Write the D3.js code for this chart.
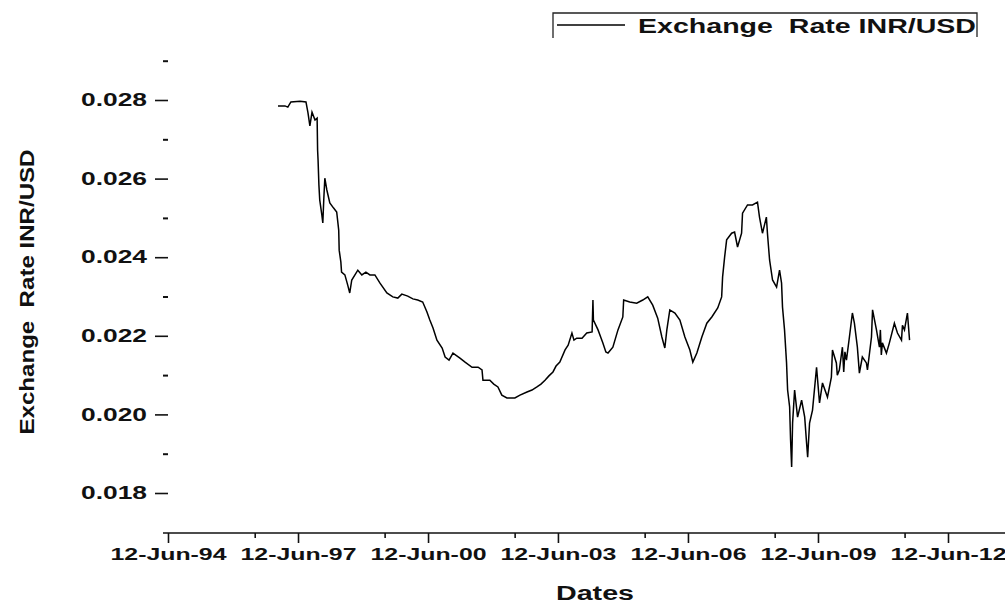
<!DOCTYPE html>
<html>
<head>
<meta charset="utf-8">
<script src="https://cdn.jsdelivr.net/npm/d3@7"></script>
<style>
  body { margin: 0; background: #fff; }
  svg { display: block; font-family: "Liberation Sans", Arial, sans-serif; }
  .tick text { font-weight: bold; fill: #111; }
  .keep-space { white-space: pre; }
</style>
</head>
<body>
<svg width="1005" height="604"></svg>
<script>
// values
const dates = [
  "1996-12-25","1997-02-22","1997-03-18","1997-04-13","1997-06-29","1997-08-18","1997-09-04","1997-09-20",
  "1997-10-08","1997-11-02","1997-11-20","1997-11-24","1997-11-28","1997-12-05","1997-12-12","1997-12-30",
  "1998-01-07","1998-01-15","1998-01-24","1998-02-10","1998-03-07","1998-04-08","1998-05-04","1998-05-21",
  "1998-05-25","1998-06-08","1998-06-14","1998-07-12","1998-08-05","1998-08-22","1998-09-08","1998-10-29",
  "1998-12-02","1999-01-05","1999-02-08","1999-03-22","1999-05-04","1999-07-01","1999-08-20","1999-10-01",
  "1999-11-04","1999-12-24","2000-02-05","2000-03-17","2000-04-28","2000-06-02","2000-06-27","2000-07-24",
  "2000-08-26","2000-10-09","2000-11-03","2000-12-06","2001-01-08","2001-03-08","2001-04-20","2001-06-18",
  "2001-08-08","2001-09-10","2001-09-18","2001-11-15","2001-12-18","2002-01-22","2002-02-24","2002-04-08",
  "2002-06-14","2002-07-27","2002-09-24","2002-11-05","2002-12-17","2003-01-20","2003-02-23","2003-03-28",
  "2003-05-01","2003-05-27","2003-06-28","2003-08-11","2003-09-06","2003-10-08","2003-10-25","2003-11-17",
  "2004-01-01","2004-02-10","2004-03-26","2004-04-02","2004-04-06","2004-05-15","2004-06-10","2004-06-24",
  "2004-07-20","2004-08-07","2004-09-17","2004-10-30","2004-12-10","2004-12-17","2005-02-06","2005-04-06",
  "2005-05-27","2005-07-08","2005-08-19","2005-09-30","2005-11-04","2005-11-29","2005-12-16","2006-01-10",
  "2006-02-22","2006-04-05","2006-05-17","2006-06-28","2006-07-23","2006-08-26","2006-10-07","2006-11-18",
  "2006-12-30","2007-02-18","2007-03-23","2007-03-31","2007-04-17","2007-05-04","2007-06-15","2007-07-10",
  "2007-08-04","2007-09-07","2007-09-15","2007-10-27","2007-12-08","2008-01-19","2008-02-05","2008-03-01",
  "2008-04-03","2008-04-12","2008-04-30","2008-05-25","2008-06-28","2008-07-23","2008-08-09","2008-08-17",
  "2008-09-03","2008-09-20","2008-09-29","2008-10-16","2008-10-24","2008-11-02","2008-11-10","2008-11-27",
  "2008-12-22","2009-01-25","2009-02-20","2009-03-08","2009-03-17","2009-04-02","2009-04-27","2009-05-31",
  "2009-06-25","2009-07-20","2009-08-31","2009-10-03","2009-10-12","2009-11-14","2009-11-22","2009-12-09",
  "2010-01-04","2010-01-15","2010-01-25","2010-02-07","2010-03-04","2010-03-29","2010-04-15","2010-05-10",
  "2010-05-27","2010-06-21","2010-07-25","2010-08-03","2010-09-06","2010-09-15","2010-10-18","2010-11-12",
  "2010-11-20","2010-11-28","2010-12-07","2011-01-10","2011-02-04","2011-03-18","2011-04-13","2011-05-17",
  "2011-05-25","2011-06-11","2011-07-06","2011-07-24"
];
const rates = [
  0.02785,0.02785,0.02782,0.02795,0.02797,0.02795,0.02767,0.02734,
  0.02769,0.02749,0.02754,0.02673,0.02647,0.02584,0.02546,0.02507,
  0.02487,0.02546,0.02601,0.02571,0.02538,0.02525,0.02515,0.02469,
  0.02418,0.02388,0.02362,0.02355,0.02329,0.02309,0.02342,0.02367,
  0.02355,0.02362,0.02355,0.02355,0.02334,0.02309,0.02299,0.02296,
  0.02306,0.02301,0.02294,0.02291,0.02286,0.02261,0.02240,0.02220,
  0.02189,0.02169,0.02146,0.02138,0.02156,0.02143,0.02133,0.02120,
  0.02120,0.02113,0.02087,0.02087,0.02077,0.02070,0.02049,0.02042,
  0.02042,0.02049,0.02057,0.02062,0.02070,0.02077,0.02087,0.02098,
  0.02108,0.02123,0.02133,0.02164,0.02176,0.02207,0.02189,0.02194,
  0.02194,0.02207,0.02210,0.02291,0.02240,0.02215,0.02194,0.02182,
  0.02159,0.02156,0.02171,0.02215,0.02248,0.02291,0.02286,0.02283,
  0.02291,0.02299,0.02278,0.02245,0.02197,0.02169,0.02215,0.02266,
  0.02258,0.02240,0.02197,0.02164,0.02133,0.02156,0.02197,0.02232,
  0.02248,0.02271,0.02299,0.02350,0.02400,0.02444,0.02461,0.02464,
  0.02426,0.02461,0.02512,0.02533,0.02533,0.02540,0.02502,0.02461,
  0.02502,0.02461,0.02393,0.02342,0.02324,0.02367,0.02334,0.02273,
  0.02215,0.02131,0.02062,0.02019,0.01935,0.01866,0.01978,0.02062,
  0.01993,0.02036,0.01993,0.01927,0.01891,0.01978,0.02011,0.02120,
  0.02029,0.02080,0.02044,0.02095,0.02164,0.02131,0.02100,0.02113,
  0.02171,0.02108,0.02159,0.02138,0.02197,0.02258,0.02232,0.02171,
  0.02105,0.02146,0.02131,0.02113,0.02197,0.02266,0.02215,0.02171,
  0.02215,0.02151,0.02182,0.02156,0.02182,0.02232,0.02207,0.02189,
  0.02227,0.02215,0.02258,0.02189
];
const majorTickDates = ["1994-06-12","1997-06-12","2000-06-12","2003-06-12","2006-06-12","2009-06-12","2012-06-12"];
const minorTickDates = ["1996-06-12","1999-06-12","2002-06-12","2005-06-12","2008-06-12","2011-06-12"];
const majorYTicks = [0.018, 0.020, 0.022, 0.024, 0.026, 0.028];
const minorYTicks = [0.019, 0.021, 0.023, 0.025, 0.027, 0.029];
const seriesName = "Exchange  Rate INR/USD";

const parse = d3.timeParse("%Y-%m-%d");
const fmtDate = d3.timeFormat("%d-%b-%y");
const data = dates.map((d, i) => ({ date: parse(d), value: rates[i] }));

const svg = d3.select("svg");
const axisY = 533, axisX = 168;

const x = d3.scaleTime()
  .domain([parse(majorTickDates[0]), parse(majorTickDates[majorTickDates.length - 1])])
  .range([168, 948]);
const y = d3.scaleLinear().domain([0.018, 0.028]).range([493, 100]);

// x axis
svg.append("line")
  .attr("x1", 163).attr("x2", 1005)
  .attr("y1", axisY).attr("y2", axisY)
  .attr("stroke", "#111").attr("stroke-width", 1.6);

const xMajor = svg.append("g")
  .attr("transform", `translate(0,${axisY})`)
  .call(d3.axisBottom(x).tickValues(majorTickDates.map(parse)).tickSize(10).tickPadding(5).tickFormat(fmtDate));
xMajor.select(".domain").remove();
xMajor.selectAll(".tick line").attr("stroke", "#111").attr("stroke-width", 1.6);
xMajor.selectAll(".tick text")
  .attr("font-size", 17)
  .attr("textLength", 116).attr("lengthAdjust", "spacingAndGlyphs");

const xMinor = svg.append("g")
  .attr("transform", `translate(0,${axisY})`)
  .call(d3.axisBottom(x).tickValues(minorTickDates.map(parse)).tickSize(5).tickFormat(""));
xMinor.select(".domain").remove();
xMinor.selectAll(".tick line").attr("stroke", "#111").attr("stroke-width", 1.6);

// y axis, ticks only
const yMajor = svg.append("g")
  .attr("transform", `translate(${axisX},0)`)
  .call(d3.axisLeft(y).tickValues(majorYTicks).tickSize(13).tickPadding(8).tickFormat(d3.format(".3f")));
yMajor.select(".domain").remove();
yMajor.selectAll(".tick line").attr("stroke", "#111").attr("stroke-width", 1.6);
yMajor.selectAll(".tick text")
  .attr("font-size", 18)
  .attr("textLength", 66).attr("lengthAdjust", "spacingAndGlyphs");

const yMinor = svg.append("g")
  .attr("transform", `translate(${axisX},0)`)
  .call(d3.axisLeft(y).tickValues(minorYTicks).tickSize(5).tickFormat(""));
yMinor.select(".domain").remove();
yMinor.selectAll(".tick line").attr("stroke", "#111").attr("stroke-width", 2);

// axis titles
svg.append("text")
  .attr("x", 595).attr("y", 600)
  .attr("text-anchor", "middle")
  .attr("font-size", 20).attr("font-weight", "bold").attr("fill", "#111")
  .attr("textLength", 78).attr("lengthAdjust", "spacingAndGlyphs")
  .text("Dates");

svg.append("text")
  .attr("class", "keep-space")
  .attr("transform", "translate(34,292) rotate(-90)")
  .attr("text-anchor", "middle")
  .attr("font-size", 20).attr("font-weight", "bold").attr("fill", "#111")
  .attr("textLength", 285).attr("lengthAdjust", "spacingAndGlyphs")
  .text(seriesName);

// series line
const line = d3.line().x(d => x(d.date)).y(d => y(d.value));
svg.append("path")
  .datum(data)
  .attr("fill", "none")
  .attr("stroke", "#000")
  .attr("stroke-width", 1.5)
  .attr("stroke-linejoin", "miter")
  .attr("d", line);

// legend
const legend = svg.append("g");
legend.append("path")
  .attr("d", "M553,38 V13 H977 V37")
  .attr("fill", "none").attr("stroke", "#222").attr("stroke-width", 1.3);
legend.append("line")
  .attr("x1", 557).attr("x2", 625).attr("y1", 25).attr("y2", 25)
  .attr("stroke", "#000").attr("stroke-width", 1.3);
legend.append("text")
  .attr("class", "keep-space")
  .attr("x", 638).attr("y", 33)
  .attr("font-size", 21).attr("font-weight", "bold").attr("fill", "#111")
  .attr("textLength", 338).attr("lengthAdjust", "spacingAndGlyphs")
  .text(seriesName);
</script>
</body>
</html>
